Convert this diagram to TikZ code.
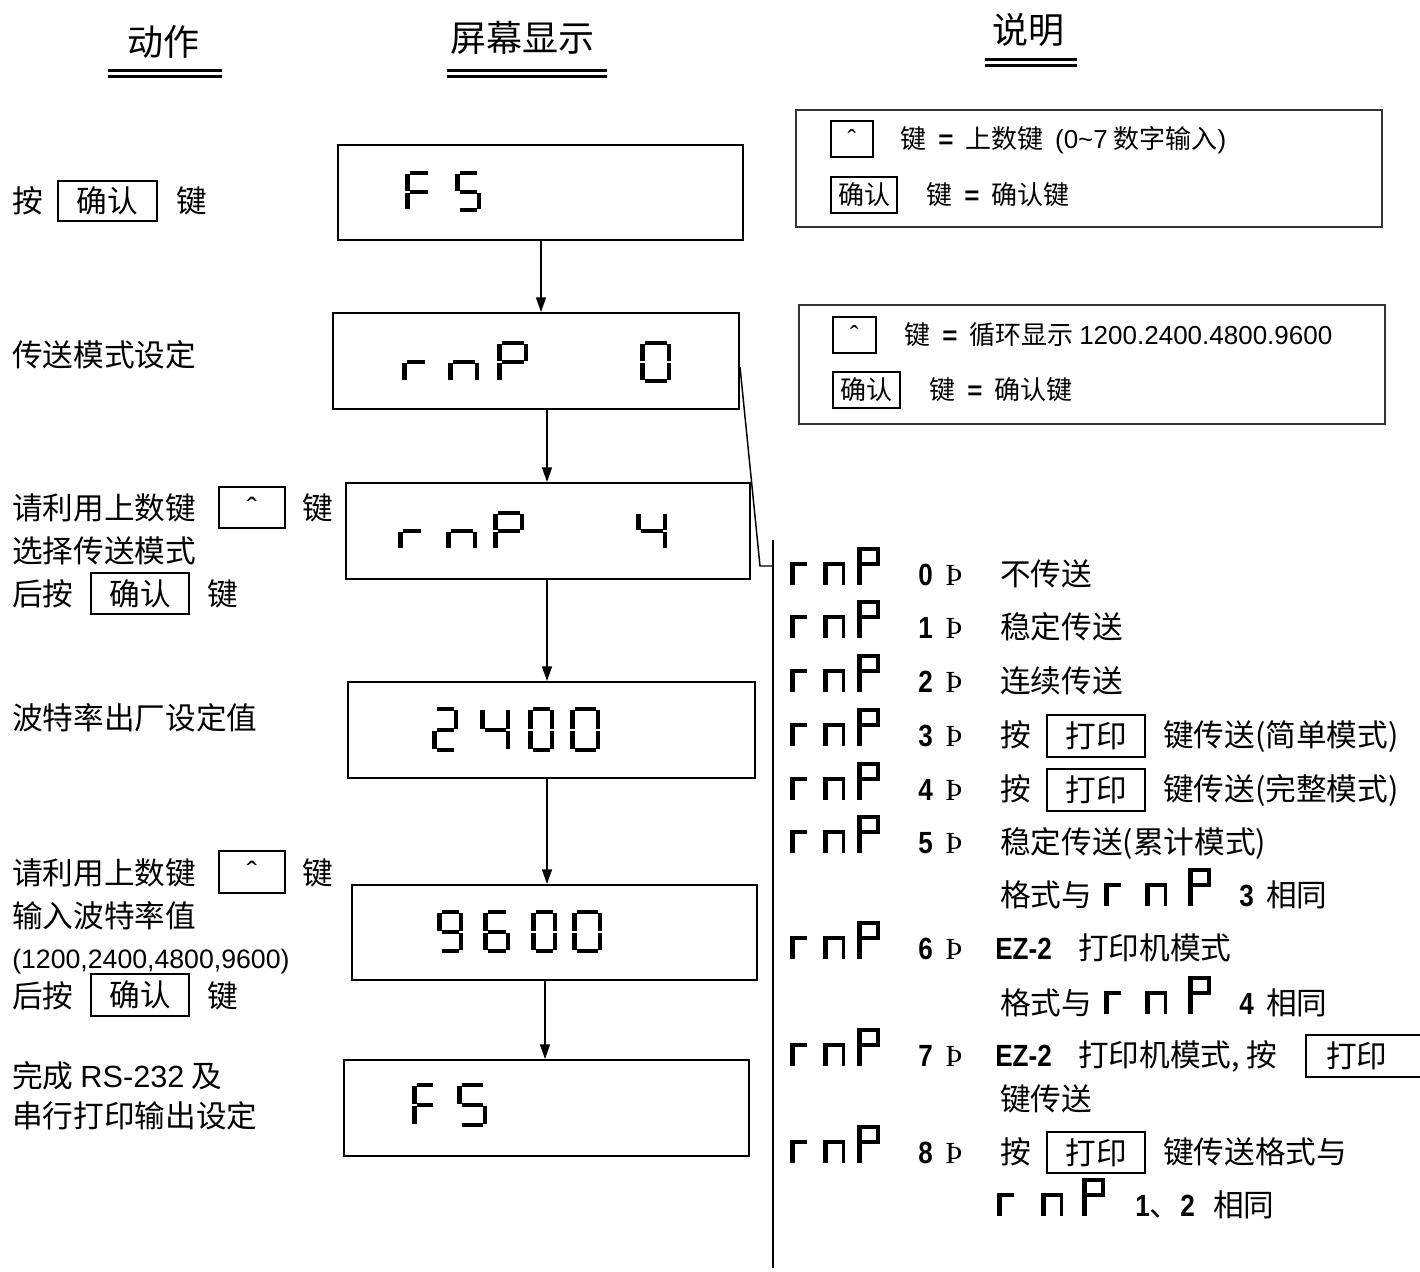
\documentclass[tikz,border=0pt]{standalone}
\usepackage{fontspec}
\usepackage{graphicx}
\setmainfont{Noto Sans CJK SC}
\newfontfamily\ar{Liberation Sans}
\newfontfamily\tm{Liberation Serif}
\usetikzlibrary{arrows.meta,calc}
\newcommand\fz{\fontsize{23pt}{27pt}\selectfont}
\newcommand\fl{\fontsize{19.5pt}{23pt}\selectfont}
\newcommand\fh{\fontsize{27pt}{32pt}\selectfont}
\newcommand\bd[1]{{\ar\bfseries\scalebox{0.85}[1]{#1}}}
\newcommand\thn{{\tm Þ}}
\newcommand\eqs{\hspace{9pt}{\ar\bfseries =}\hspace{9pt}}
% seven segment digit: x, y(top), w, h, thickness, segments
\newcommand\sseg[6]{%
\begin{scope}[shift={(#1,#2)}]
\foreach \s in {#6}{%
 \if\s a\fill (#5,0) rectangle (#3-#5,#5-0.5);\fi
 \if\s b\fill (#3-#5,0.6*#5) rectangle (#3,#4/2-1);\fi
 \if\s c\fill (#3-#5,#4/2+1) rectangle (#3,#4-0.6*#5);\fi
 \if\s d\fill (#5,#4-#5+0.5) rectangle (#3-#5,#4);\fi
 \if\s e\fill (0,#4/2+1) rectangle (#5,#4-0.6*#5);\fi
 \if\s f\fill (0,0.6*#5) rectangle (#5,#4/2-1);\fi
 \if\s g\fill (#5,#4/2-#5/2+0.25) rectangle (#3-#5,#4/2+#5/2-0.25);\fi
}
\end{scope}}
% list glyph rnP: x, yc, n offset, P offset
\newcommand\lrnp[4]{%
\begin{scope}[shift={(#1,#2-27)}]
 \fill (0,15) rectangle (17,19); \fill (0,15) rectangle (5,38);
 \fill (#3,15) rectangle (#3+22,19); \fill (#3,15) rectangle (#3+5,38); \fill (#3+19,15) rectangle (#3+22,38);
 \fill (#4,0) rectangle (#4+23,4); \fill (#4,0) rectangle (#4+5,38); \fill (#4+19,0) rectangle (#4+23,19); \fill (#4,15) rectangle (#4+23,19);
\end{scope}}
\begin{document}
\begin{tikzpicture}[x=0.75pt,y=-0.75pt,
 t/.style={inner sep=0pt,anchor=west,font=\fz,text height=17.5pt,text depth=0pt},
 tl/.style={inner sep=0pt,anchor=west,font=\fl,text height=14.8pt,text depth=0pt},
 hd/.style={inner sep=0pt,font=\fh},
 key/.style={draw,line width=1.5pt,inner sep=0pt,font=\fz,text height=17.5pt,text depth=0pt},
 keyl/.style={draw,line width=1.5pt,inner sep=0pt,font=\fl,text height=14.8pt,text depth=0pt},
 lcd/.style={draw,line width=1.5pt,inner sep=0pt},
 legend/.style={draw=black!80,line width=1.1pt,inner sep=0pt},
 arr/.style={line width=1.1pt,-{Triangle[length=11pt,width=7.5pt]}},
 ul/.style={line width=2.2pt},
 link/.style={line width=1.1pt}]
\useasboundingbox (0,0) rectangle (1420,1271);
\clip (0,0) rectangle (1420,1271);
\fill[white] (0,0) rectangle (1420,1271);

% headers
\node[hd] (h1) at (163,42) {动作};
\node[hd] (h2) at (522,38) {屏幕显示};
\node[hd] (h3) at (1028,30) {说明};
\draw[ul] (108,70.5) -- (222,70.5) (108,76.5) -- (222,76.5);
\draw[ul] (447,70.5) -- (607,70.5) (447,76.5) -- (607,76.5);
\draw[ul] (985,59.5) -- (1077,59.5) (985,65.5) -- (1077,65.5);

% LCD boxes
\node[lcd,minimum width=405*0.75pt,minimum height=95*0.75pt] (b1) at (540.5,192.5) {};
\node[lcd,minimum width=406*0.75pt,minimum height=96*0.75pt] (b2) at (536,361) {};
\node[lcd,minimum width=404*0.75pt,minimum height=96*0.75pt] (b3) at (548,531) {};
\node[lcd,minimum width=407*0.75pt,minimum height=96*0.75pt] (b4) at (551.5,730) {};
\node[lcd,minimum width=405*0.75pt,minimum height=95*0.75pt] (b5) at (554.5,932.5) {};
\node[lcd,minimum width=405*0.75pt,minimum height=96*0.75pt] (b6) at (546.5,1108) {};

% digits
\sseg{405}{171}{27}{41}{4.5}{a,f,e,g}
\sseg{455}{171}{26}{41}{4.5}{a,f,g,c,d}
\sseg{402}{341}{27}{42}{4.5}{e,g}
\sseg{448}{341}{31}{42}{4.5}{c,e,g}
\sseg{497}{341}{31}{42}{4.5}{a,b,f,g,e}
\sseg{640}{341}{31}{42}{4.5}{a,b,c,d,e,f}
\sseg{398}{511}{27}{40}{4.5}{e,g}
\sseg{446}{511}{31}{40}{4.5}{c,e,g}
\sseg{493}{511}{31}{40}{4.5}{a,b,f,g,e}
\sseg{636}{511}{31}{40}{4.5}{b,c,f,g}
\sseg{432}{707}{26}{45}{4.5}{a,b,g,e,d}
\sseg{480}{707}{30}{45}{4.5}{f,g,b,c}
\sseg{528}{707}{26}{45}{4.5}{a,b,c,d,e,f}
\sseg{570}{707}{30}{45}{4.5}{a,b,c,d,e,f}
\sseg{437}{910}{26}{43}{4.5}{a,b,c,d,f,g}
\sseg{483}{910}{27}{43}{4.5}{a,f,g,e,c,d}
\sseg{531}{910}{26}{43}{4.5}{a,b,c,d,e,f}
\sseg{572}{910}{30}{43}{4.5}{a,b,c,d,e,f}
\sseg{412}{1083}{25}{44}{4.5}{a,f,e,g}
\sseg{457}{1083}{30}{44}{4.5}{a,f,g,c,d}

% arrows
\coordinate (x1) at (541,0);
\coordinate (x2) at (547,0);
\coordinate (x5) at (545,0);
\draw[arr] (b1.south -| x1) -- (b2.north -| x1);
\draw[arr] (b2.south -| x2) -- (b3.north -| x2);
\draw[arr] (b3.south -| x2) -- (b4.north -| x2);
\draw[arr] (b4.south -| x2) -- (b5.north -| x2);
\draw[arr] (b5.south -| x5) -- (b6.north -| x5);

% bracket
\coordinate (d1) at (760,566);
\coordinate (d2) at (773,566);
\coordinate (vt) at (773,540);
\coordinate (vb) at (773,1268);
\draw[link] ($(b2.east)+(0,6)$) -- (d1) -- (d2);
\draw[link] (vt) -- (vb);

% left actions
\node[t] (a1) at (12,201) {按};
\node[key,minimum width=99*0.75pt,minimum height=40*0.75pt] (k1) at (107.5,201) {确认};
\node[t] (a1b) at (176,201) {键};
\node[t] (a2) at (12,355) {传送模式设定};
\node[t] (a3) at (12,508) {请利用上数键};
\node[key,minimum width=66*0.75pt,minimum height=41*0.75pt] (k2) at (252,507.5) {{\ar ˆ}};
\node[t] (a3b) at (302,508) {键};
\node[t] (a4) at (12,551) {选择传送模式};
\node[t] (a5) at (12,594) {后按};
\node[key,minimum width=98*0.75pt,minimum height=41*0.75pt] (k3) at (140,593.5) {确认};
\node[t] (a5b) at (207,594) {键};
\node[t] (a6) at (12,718) {波特率出厂设定值};
\node[t] (a7) at (12,873) {请利用上数键};
\node[key,minimum width=66*0.75pt,minimum height=42*0.75pt] (k4) at (252,872) {{\ar ˆ}};
\node[t] (a7b) at (302,873) {键};
\node[t] (a8) at (12,916) {输入波特率值};
\node[t] (a9) at (12,957) {\ar\fontsize{20pt}{24pt}\selectfont (1200,2400,4800,9600)};
\node[t] (a10) at (12,996) {后按};
\node[key,minimum width=98*0.75pt,minimum height=42*0.75pt] (k5) at (140,995) {确认};
\node[t] (a10b) at (207,996) {键};
\node[t] (a11) at (12,1076) {完成 {\ar RS-232} 及};
\node[t] (a12) at (12,1116) {串行打印输出设定};

% legends
\node[legend,minimum width=586*0.75pt,minimum height=117*0.75pt] (la) at (1089,168.5) {};
\node[keyl,minimum width=42*0.75pt,minimum height=36*0.75pt] (ka1) at (852,139) {{\ar ˆ}};
\node[tl] (la1) at (900,139) {键\eqs 上数键 \ {\ar (0\textasciitilde 7} 数字输入{\ar )}};
\node[keyl,minimum width=66*0.75pt,minimum height=36*0.75pt] (ka2) at (864,195) {确认};
\node[tl] (la2) at (926,195) {键\eqs 确认键};
\node[legend,minimum width=586*0.75pt,minimum height=119*0.75pt] (lb) at (1092,364.5) {};
\node[keyl,minimum width=43*0.75pt,minimum height=36*0.75pt] (kb1) at (854.5,335) {{\ar ˆ}};
\node[tl] (lb1) at (904,335) {键\eqs 循环显示 {\ar 1200.2400.4800.9600}};
\node[keyl,minimum width=67*0.75pt,minimum height=36*0.75pt] (kb2) at (866.5,390) {确认};
\node[tl] (lb2) at (929,390) {键\eqs 确认键};

% list
\lrnp{790}{574}{33}{67}
\node[t] (n0) at (918,574) {\bd{0}}; \node[t] (p0) at (945,574) {\thn};
\node[t] (d0) at (1000,574) {不传送};
\lrnp{790}{627}{33}{67}
\node[t] (n1) at (918,627) {\bd{1}}; \node[t] (p1) at (945,627) {\thn};
\node[t] (d1t) at (1000,627) {稳定传送};
\lrnp{790}{681}{33}{67}
\node[t] (n2) at (918,681) {\bd{2}}; \node[t] (p2) at (945,681) {\thn};
\node[t] (d2t) at (1000,681) {连续传送};
\lrnp{790}{735}{33}{67}
\node[t] (n3) at (918,735) {\bd{3}}; \node[t] (p3) at (945,735) {\thn};
\node[t] (d3) at (1000,735) {按};
\node[key,minimum width=98*0.75pt,minimum height=42*0.75pt] (kp3) at (1096,736) {打印};
\node[t] (d3b) at (1163,735) {键传送(简单模式)};
\lrnp{790}{789}{33}{67}
\node[t] (n4) at (918,789) {\bd{4}}; \node[t] (p4) at (945,789) {\thn};
\node[t] (d4) at (1000,789) {按};
\node[key,minimum width=98*0.75pt,minimum height=42*0.75pt] (kp4) at (1096,790) {打印};
\node[t] (d4b) at (1163,789) {键传送(完整模式)};
\lrnp{790}{842}{33}{67}
\node[t] (n5) at (918,842) {\bd{5}}; \node[t] (p5) at (945,842) {\thn};
\node[t] (d5) at (1000,842) {稳定传送(累计模式)};
\node[t] (d5b) at (1000,895) {格式与};
\lrnp{1104}{895}{41}{84}
\node[t] (d5c) at (1239,895) {\bd{3}};
\node[t] (d5d) at (1266,895) {相同};
\lrnp{790}{948}{33}{67}
\node[t] (n6) at (918,948) {\bd{6}}; \node[t] (p6) at (945,948) {\thn};
\node[t] (d6) at (995,948) {\bd{EZ-2}};
\node[t] (d6b) at (1078,948) {打印机模式};
\node[t] (d6c) at (1000,1003) {格式与};
\lrnp{1104}{1003}{41}{84}
\node[t] (d6d) at (1239,1003) {\bd{4}};
\node[t] (d6e) at (1266,1003) {相同};
\lrnp{790}{1055}{33}{67}
\node[t] (n7) at (918,1055) {\bd{7}}; \node[t] (p7) at (945,1055) {\thn};
\node[t] (d7) at (995,1055) {\bd{EZ-2}};
\node[t] (d7b) at (1078,1055) {打印机模式, 按};
\node[key,anchor=west,minimum height=42*0.75pt,text width=110*0.75pt,align=left,inner xsep=20*0.75pt] (kp7) at (1305,1056) {打印};
\node[t] (d7c) at (1000,1099) {键传送};
\lrnp{790}{1152}{33}{67}
\node[t] (n8) at (918,1152) {\bd{8}}; \node[t] (p8) at (945,1152) {\thn};
\node[t] (d8) at (1000,1152) {按};
\node[key,minimum width=98*0.75pt,minimum height=41*0.75pt] (kp8) at (1096,1152.5) {打印};
\node[t] (d8b) at (1163,1152) {键传送格式与};
\lrnp{997}{1205}{44}{85}
\node[t] (d8c) at (1135,1205) {\bd{1}、\bd{2}};
\node[t] (d8d) at (1213,1205) {相同};
\end{tikzpicture}
\end{document}
